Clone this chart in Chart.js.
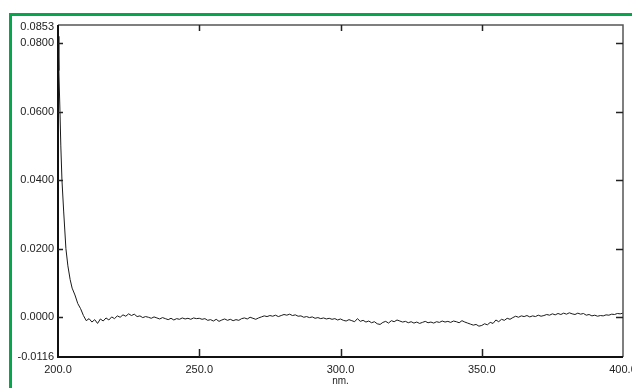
<!DOCTYPE html>
<html>
<head>
<meta charset="utf-8">
<script src="https://cdn.jsdelivr.net/npm/chart.js@4.4.1/dist/chart.umd.min.js"></script>
<style>
  html, body { margin: 0; padding: 0; background: #fff; }
  #wrap { position: relative; width: 632px; height: 388px; overflow: hidden; }
  #frame { position: absolute; left: 9px; top: 13px; width: 700px; height: 500px;
           border-top: 3px solid #08a64c; border-left: 3px solid #08a64c; pointer-events: none; }
</style>
</head>
<body>
<div id="wrap">
  <canvas id="spec" width="632" height="388"></canvas>
  <div id="frame"></div>
</div>
<script>
// wavelength (nm) and absorbance
const steepNm = [200.0, 200.3, 200.7, 201.0, 201.4, 202.0, 202.8, 203.5, 204.3, 205.0, 206.0, 207.0, 208.0, 209.0, 210.0]
const steepAbs = [0.0820, 0.0720, 0.0600, 0.0500, 0.0400, 0.0310, 0.0200, 0.0150, 0.0110, 0.0085, 0.0065, 0.0040, 0.0025, 0.0005, -0.0010]

// baseline 211..400 nm, 1 nm step
const baseStart = 211
const baseAbs = [
  -0.0004, -0.0014, -0.0007, -0.0018, -0.0005, -0.0011, -0.0002, -0.0008, 0.0001, -0.0004,
  0.0004, 0.0000, 0.0007, 0.0003, 0.0010, 0.0005, 0.0009, 0.0002, 0.0004, -0.0001,
  0.0002, 0.0000, -0.0003, 0.0001, -0.0002, -0.0005, -0.0001, -0.0004, -0.0007, -0.0003,
  -0.0008, -0.0004, -0.0006, -0.0002, -0.0005, -0.0003, -0.0006, -0.0002, -0.0004, -0.0003,
  -0.0006, -0.0004, -0.0009, -0.0007, -0.0011, -0.0006, -0.0012, -0.0008, -0.0005, -0.0009,
  -0.0006, -0.0010, -0.0007, -0.0009, -0.0004, -0.0002, -0.0005, 0.0000, -0.0003, -0.0006,
  -0.0002, 0.0001, 0.0004, 0.0002, 0.0005, 0.0003, 0.0006, 0.0002, 0.0005, 0.0008,
  0.0006, 0.0009, 0.0005, 0.0007, 0.0003, 0.0004, 0.0000, 0.0002, -0.0001, 0.0001,
  -0.0003, -0.0001, -0.0004, -0.0002, -0.0005, -0.0003, -0.0006, -0.0004, -0.0008, -0.0005,
  -0.0009, -0.0011, -0.0007, -0.0010, -0.0013, -0.0004, -0.0012, -0.0009, -0.0014, -0.0011,
  -0.0016, -0.0013, -0.0019, -0.0021, -0.0015, -0.0012, -0.0017, -0.0010, -0.0013, -0.0008,
  -0.0011, -0.0014, -0.0012, -0.0016, -0.0013, -0.0017, -0.0014, -0.0018, -0.0015, -0.0012,
  -0.0016, -0.0014, -0.0017, -0.0013, -0.0015, -0.0011, -0.0014, -0.0012, -0.0015, -0.0011,
  -0.0013, -0.0016, -0.0010, -0.0014, -0.0017, -0.0020, -0.0023, -0.0021, -0.0026, -0.0024,
  -0.0019, -0.0022, -0.0015, -0.0018, -0.0008, -0.0013, -0.0006, -0.0009, -0.0003, -0.0006,
  -0.0001, 0.0003, 0.0000, 0.0004, 0.0002, 0.0005, 0.0001, 0.0004, 0.0002, 0.0006,
  0.0003, 0.0005, 0.0008, 0.0006, 0.0010, 0.0007, 0.0011, 0.0008, 0.0012, 0.0009,
  0.0013, 0.0010, 0.0008, 0.0012, 0.0009, 0.0011, 0.0006, 0.0008, 0.0004, 0.0006,
  0.0003, 0.0005, 0.0004, 0.0007, 0.0006, 0.0009, 0.0008, 0.0011, 0.0010, 0.0012
]

const xTicks = [200, 250, 300, 350, 400]
const xTickLabels = ['200.0', '250.0', '300.0', '350.0', '400.0']
const yTicks = [-0.0116, 0, 0.02, 0.04, 0.06, 0.08, 0.0853]
const yTickLabels = ['-0.0116', '0.0000', '0.0200', '0.0400', '0.0600', '0.0800', '0.0853']
const xUnit = 'nm.'

let points = []
steepNm.forEach((nm, i) => points.push({x: nm, y: steepAbs[i]}))
baseAbs.forEach((v, i) => points.push({x: baseStart + i, y: v}))

const framePlugin = {
  id: 'frame',
  afterDraw(chart) {
    const ctx = chart.ctx
    const a = chart.chartArea
    const xs = chart.scales.x, ys = chart.scales.y
    ctx.save()
    // top + right (lighter)
    ctx.strokeStyle = '#555'
    ctx.lineWidth = 1.5
    ctx.beginPath()
    ctx.moveTo(a.left, a.top); ctx.lineTo(a.right, a.top); ctx.lineTo(a.right, a.bottom)
    ctx.stroke()
    // left + bottom
    ctx.strokeStyle = '#111'
    ctx.lineWidth = 2
    ctx.beginPath()
    ctx.moveTo(a.left, a.top); ctx.lineTo(a.left, a.bottom); ctx.lineTo(a.right, a.bottom)
    ctx.stroke()

    // y ticks, inward on both sides
    ctx.lineWidth = 1.5
    ctx.strokeStyle = '#222'
    yTicks.forEach((v) => {
      if (v === yTicks[0] || v === yTicks[yTicks.length - 1]) return
      const py = Math.round(ys.getPixelForValue(v)) + 0.5
      ctx.beginPath()
      ctx.moveTo(a.left, py); ctx.lineTo(a.left + 5, py)
      ctx.moveTo(a.right, py); ctx.lineTo(a.right - 7, py)
      ctx.stroke()
    })
    // x ticks, inward at bottom and top
    xTicks.slice(1, -1).forEach((v) => {
      const px = Math.round(xs.getPixelForValue(v)) + 0.5
      ctx.beginPath()
      ctx.moveTo(px, a.bottom); ctx.lineTo(px, a.bottom - 8)
      ctx.moveTo(px, a.top); ctx.lineTo(px, a.top + 6)
      ctx.stroke()
    })

    // labels
    ctx.fillStyle = '#222'
    ctx.font = '11px "Liberation Sans", Arial, sans-serif'
    ctx.textAlign = 'right'
    ctx.textBaseline = 'middle'
    yTicks.forEach((v, i) => {
      let py = ys.getPixelForValue(v)
      if (i === yTicks.length - 1) py += 2
      ctx.fillText(yTickLabels[i], a.left - 4, py)
    })
    ctx.textAlign = 'center'
    xTicks.forEach((v, i) => {
      ctx.fillText(xTickLabels[i], xs.getPixelForValue(v), a.bottom + 13)
    })
    ctx.font = '10px "Liberation Sans", Arial, sans-serif'
    ctx.fillText(xUnit, xs.getPixelForValue(300), a.bottom + 24)
    ctx.restore()
  }
}

new Chart(document.getElementById('spec'), {
  type: 'line',
  data: {
    datasets: [{
      data: points,
      borderColor: '#1a1a1a',
      borderWidth: 1,
      pointRadius: 0,
      tension: 0,
      fill: false
    }]
  },
  options: {
    responsive: false,
    animation: false,
    layout: { padding: { top: 25, right: 9, left: 0, bottom: 0 } },
    plugins: { legend: { display: false }, tooltip: { enabled: false } },
    scales: {
      x: {
        type: 'linear', min: 200, max: 400,
        ticks: { display: false },
        grid: { display: false },
        border: { display: false },
        afterFit: (s) => { s.height = 31 }
      },
      y: {
        min: -0.0116, max: 0.0853,
        ticks: { display: false },
        grid: { display: false },
        border: { display: false },
        afterFit: (s) => { s.width = 58 }
      }
    }
  },
  plugins: [framePlugin]
})
</script>
</body>
</html>
